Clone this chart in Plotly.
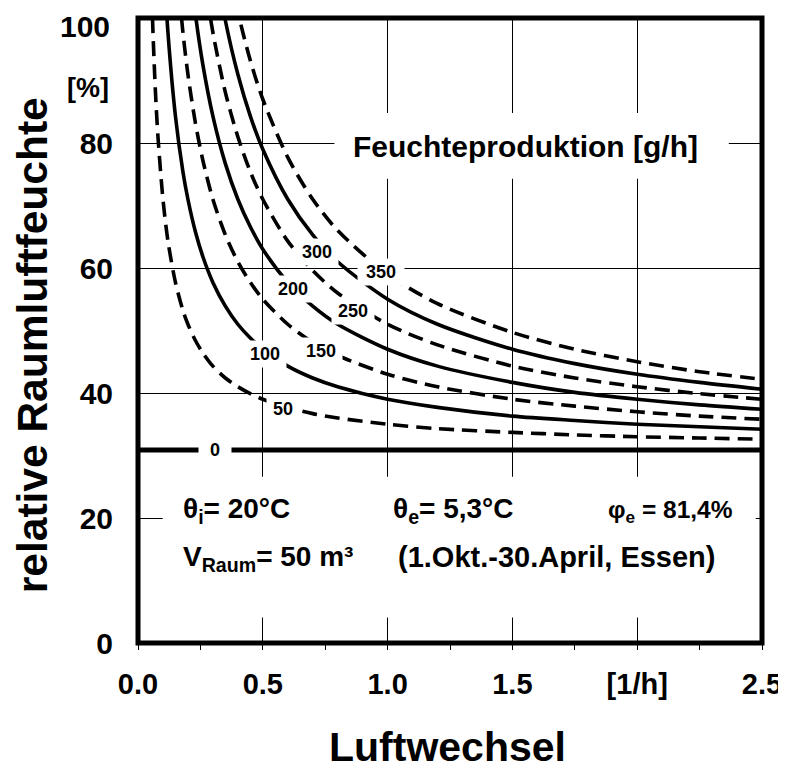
import plotly.graph_objects as go

# ---- data ----
ach = [0.05, 0.06, 0.07, 0.08, 0.10, 0.12, 0.15, 0.18, 0.20, 0.23, 0.26, 0.30, 0.35,
       0.40, 0.45, 0.50, 0.60, 0.70, 0.80, 1.00, 1.20, 1.50, 1.75, 2.00, 2.25, 2.50]

rh_50 = [111, 97.7, 88.1, 81, 71, 64.3, 57.7, 53.2, 51, 48.4, 46.4, 44.3, 42.4,
         41, 39.9, 39, 37.7, 36.7, 36, 35, 34.3, 33.7, 33.3, 33, 32.8, 32.6]
rh_100 = [None, None, None, None, 111, 97.7, 84.3, 75.4, 71, 65.8, 61.8, 57.7, 53.9,
          51, 48.8, 47, 44.3, 42.4, 41, 39, 37.7, 36.3, 35.6, 35, 34.6, 34.2]
rh_150 = [None, None, None, None, None, None, 111, 97.7, 91, 83.2, 77.2, 71, 65.3,
          61, 57.7, 55, 51, 48.1, 46, 43, 41, 39, 37.9, 37, 36.3, 35.8]
rh_200 = [None, None, None, None, None, None, None, None, 111, 100.6, 92.5, 84.3, 76.7,
          71, 66.6, 63, 57.7, 53.9, 51, 47, 44.3, 41.7, 40.1, 39, 38.1, 37.4]
rh_250 = [None, None, None, None, None, None, None, None, None, 118, 107.9, 97.7, 88.1,
          81, 75.4, 71, 64.3, 59.6, 56, 51, 47.7, 44.3, 42.4, 41, 39.9, 39]
rh_300 = [None, None, None, None, None, None, None, None, None, None, 123.3, 111, 99.6,
          91, 84.3, 79, 71, 65.3, 61, 55, 51, 47, 44.7, 43, 41.7, 40.6]
rh_350 = [None, None, None, None, None, None, None, None, None, None, None, 124.3, 111,
          101, 93.2, 87, 77.7, 71, 66, 59, 54.3, 49.7, 47, 45, 43.4, 42.2]
rh_0_x = [0.0, 2.5]
rh_0 = [30.9, 30.9]

production = [50, 100, 150, 200, 250, 300, 350]
curves = [rh_50, rh_100, rh_150, rh_200, rh_250, rh_300, rh_350]

x_tickvals = [0, 0.5, 1.0, 1.5, 2.0, 2.5]
x_ticktext = ["0.0", "0.5", "1.0", "1.5", "[1/h]", "2.5"]
y_tickvals = [0, 20, 40, 60, 80]
y_ticktext = ["0", "20", "40", "60", "80"]
y_top_label = "100"

# label positions (layout)
label_text = ["0", "50", "100", "150", "200", "250", "300", "350"]
label_x = [0.307, 0.58, 0.507, 0.734, 0.62, 0.86, 0.719, 0.974]
label_y = [30.9, 37.4, 46.3, 46.8, 56.7, 53.2, 62.5, 59.4]
label_w = [26, 26, 36, 36, 36, 36, 36, 40]

FONT = "Liberation Sans, Arial, sans-serif"
DASH = "15px,8px"

fig = go.Figure()

fig.add_trace(go.Scatter(x=rh_0_x, y=rh_0, mode="lines",
                         line=dict(color="black", width=5),
                         showlegend=False, hoverinfo="skip"))

for g, ys in zip(production, curves):
    dashed = (g // 50) % 2 == 1
    fig.add_trace(go.Scatter(
        x=ach, y=ys, mode="lines", name=f"{g} g/h",
        line=dict(color="black", width=3.6, dash=DASH if dashed else "solid",
                  shape="spline", smoothing=0.8),
        showlegend=False, hoverinfo="skip"))

shapes = [
    dict(type="rect", xref="x", yref="y", x0=0.787, x1=2.367, y0=74.3, y1=84.8,
         fillcolor="white", line=dict(width=0), layer="above"),
    dict(type="rect", xref="x", yref="y", x0=0.099, x1=2.475, y0=4.1, y1=26.6,
         fillcolor="white", line=dict(width=0), layer="above"),
    # frame (paper refs are not clipped to the plot area)
    dict(type="rect", xref="paper", yref="paper", x0=0, x1=1, y0=0, y1=1,
         line=dict(color="black", width=5), layer="above"),
]

annotations = []
for t, xx, yy, w in zip(label_text, label_x, label_y, label_w):
    annotations.append(dict(x=xx, y=yy, xref="x", yref="y", text=t, showarrow=False,
                            font=dict(family=FONT, size=18, color="black", weight="bold"),
                            bgcolor="white", width=w, borderpad=3,
                            xanchor="center", yanchor="middle"))


def bf(size):
    return dict(family=FONT, size=size, color="black", weight="bold")


annotations += [
    dict(x=1.553, y=79.4, xref="x", yref="y", text="Feuchteproduktion [g/h]",
         showarrow=False, font=bf(30), xanchor="center", yanchor="middle"),
    dict(x=0.174, y=21.2, xref="x", yref="y", text="θ<sub>i</sub>= 20°C",
         showarrow=False, font=bf(28), xanchor="left", yanchor="middle"),
    dict(x=1.014, y=21.2, xref="x", yref="y", text="θ<sub>e</sub>= 5,3°C",
         showarrow=False, font=bf(28), xanchor="left", yanchor="middle"),
    dict(x=1.874, y=21.0, xref="x", yref="y", text="φ<sub>e</sub> = 81,4%",
         showarrow=False, font=bf(24.5), xanchor="left", yanchor="middle"),
    dict(x=0.174, y=13.6, xref="x", yref="y", text="V<sub>Raum</sub>= 50 m³",
         showarrow=False, font=bf(28), xanchor="left", yanchor="middle"),
    dict(x=1.034, y=13.7, xref="x", yref="y", text="(1.Okt.-30.April, Essen)",
         showarrow=False, font=bf(29), xanchor="left", yanchor="middle"),
    # top tick label, kept just inside the page top
    dict(x=-0.042, y=1.016, xref="paper", yref="paper", text=y_top_label,
         showarrow=False, font=bf(30), xanchor="right", yanchor="top"),
    dict(x=-0.0426, y=88.8, xref="paper", yref="y", text="[%]", showarrow=False,
         font=bf(27), xanchor="right", yanchor="middle"),
    dict(x=-0.1687, y=0.476, xref="paper", yref="paper", text="relative Raumluftfeuchte",
         textangle=-90, showarrow=False, font=bf(42.5),
         xanchor="center", yanchor="middle"),
    dict(x=0.496, y=-0.1664, xref="paper", yref="paper", text="Luftwechsel",
         showarrow=False, font=bf(41), xanchor="center", yanchor="middle"),
]

# the page body adds an 8px margin, so the figure is 8px smaller and offset
fig.update_layout(
    width=778, height=761,
    margin=dict(l=130, r=24, t=10, b=126, autoexpand=False),
    paper_bgcolor="white", plot_bgcolor="white",
    shapes=shapes, annotations=annotations,
    showlegend=False,
    font=dict(family=FONT, color="black"),
)
fig.update_xaxes(range=[0, 2.5], tickvals=x_tickvals, ticktext=x_ticktext,
                 showgrid=True, gridcolor="black", gridwidth=1, zeroline=False,
                 showline=False, ticks="", ticklabelstandoff=21, automargin=False,
                 ticklabeloverflow="allow", tickfont=bf(29),
                 minor=dict(dtick=0.25, tick0=0, ticks="outside", ticklen=6,
                            tickcolor="black", tickwidth=1, showgrid=False))
fig.update_yaxes(range=[0, 100], tickvals=y_tickvals, ticktext=y_ticktext,
                 showgrid=True, gridcolor="black", gridwidth=1, zeroline=False,
                 showline=False, ticks="", ticklabelstandoff=24, automargin=False,
                 ticklabeloverflow="allow", tickfont=bf(30))

fig.write_html("out.html")
